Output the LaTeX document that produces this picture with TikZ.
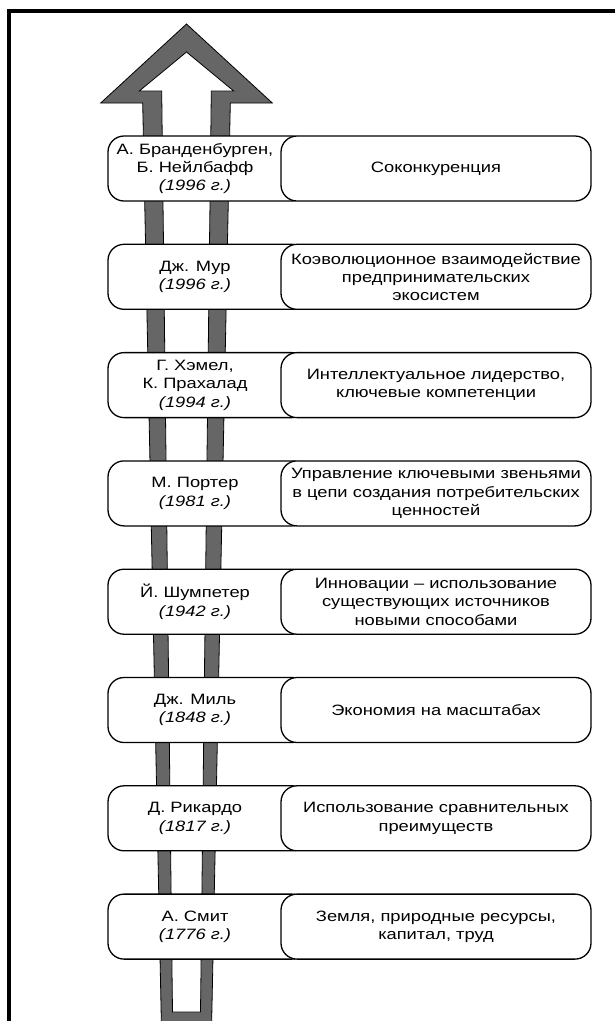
\documentclass[tikz,border=0pt]{standalone}
\usepackage{fontspec}
\setmainfont{Liberation Sans}[FakeStretch=1.22]
\newcommand\boxfont{\fontsize{15pt}{18.3pt}\selectfont}
\tikzset{
  band/.style={fill=black!60, draw=black, line width=0.8pt, line join=miter},
  hole/.style={fill=white, draw=black, line width=0.8pt, line join=miter},
  lbox/.style={draw=black, line width=1.3pt, fill=white, rounded corners=16pt,
    minimum width=200pt, minimum height=65pt, inner sep=0pt},
  rbox/.style={draw=black, line width=1.3pt, fill=white, rounded corners=16pt,
    minimum width=310pt, minimum height=65pt, inner sep=0pt, align=center, font=\boxfont},
  ltext/.style={align=center, font=\boxfont, inner sep=0pt},
  frameline/.style={line width=4pt, line cap=rect, line join=miter}
}
\begin{document}
\begin{tikzpicture}[x=1pt,y=-1pt]
\useasboundingbox (0,0) rectangle (615,1021);
% frame
\draw[frameline] (8.7,1030) -- (8.7,11.3) -- (625,11.3);
% arrow
\draw[band] (161.5,1030) -- (142.7,103) -- (100.7,103) -- (186.5,24) -- (272.3,103) -- (230.3,103) -- (211.5,1030) -- cycle;
\draw[hole] (172.5,1012) -- (161.7,91) -- (139.3,91) -- (186.5,52) -- (233.7,91) -- (211.3,91) -- (200.5,1012) -- cycle;
% rows
\node[lbox] (l1) at (208,168.5) {};
\node[rbox] (r1) at (436,168.5) {Соконкуренция};
\node[ltext] (t1) at (195,168.5) {А. Бранденбурген,\\Б. Нейлбафф\\\textit{(1996 г.)}};

\node[lbox] (l2) at (208,276.8) {};
\node[rbox] (r2) at (436,276.8) {Коэволюционное взаимодействие\\предпринимательских\\экосистем};
\node[ltext] (t2) at (195,276.8) {Дж. Мур\\\textit{(1996 г.)}};

\node[lbox] (l3) at (208,385.1) {};
\node[rbox] (r3) at (436,385.1) {Интеллектуальное лидерство,\\ключевые компетенции};
\node[ltext] (t3) at (195,385.1) {Г. Хэмел,\\К. Прахалад\\\textit{(1994 г.)}};

\node[lbox] (l4) at (208,493.4) {};
\node[rbox] (r4) at (436,493.4) {Управление ключевыми звеньями\\в цепи создания потребительских\\ценностей};
\node[ltext] (t4) at (195,493.4) {М. Портер\\\textit{(1981 г.)}};

\node[lbox] (l5) at (208,601.7) {};
\node[rbox] (r5) at (436,601.7) {Инновации – использование\\существующих источников\\новыми способами};
\node[ltext] (t5) at (195,601.7) {Й. Шумпетер\\\textit{(1942 г.)}};

\node[lbox] (l6) at (208,710) {};
\node[rbox] (r6) at (436,710) {Экономия на масштабах};
\node[ltext] (t6) at (195,710) {Дж. Миль\\\textit{(1848 г.)}};

\node[lbox] (l7) at (208,818.3) {};
\node[rbox] (r7) at (436,818.3) {Использование сравнительных\\преимуществ};
\node[ltext] (t7) at (195,818.3) {Д. Рикардо\\\textit{(1817 г.)}};

\node[lbox] (l8) at (208,926.6) {};
\node[rbox] (r8) at (436,926.6) {Земля, природные ресурсы,\\капитал, труд};
\node[ltext] (t8) at (195,926.6) {А. Смит\\\textit{(1776 г.)}};
\end{tikzpicture}
\end{document}
